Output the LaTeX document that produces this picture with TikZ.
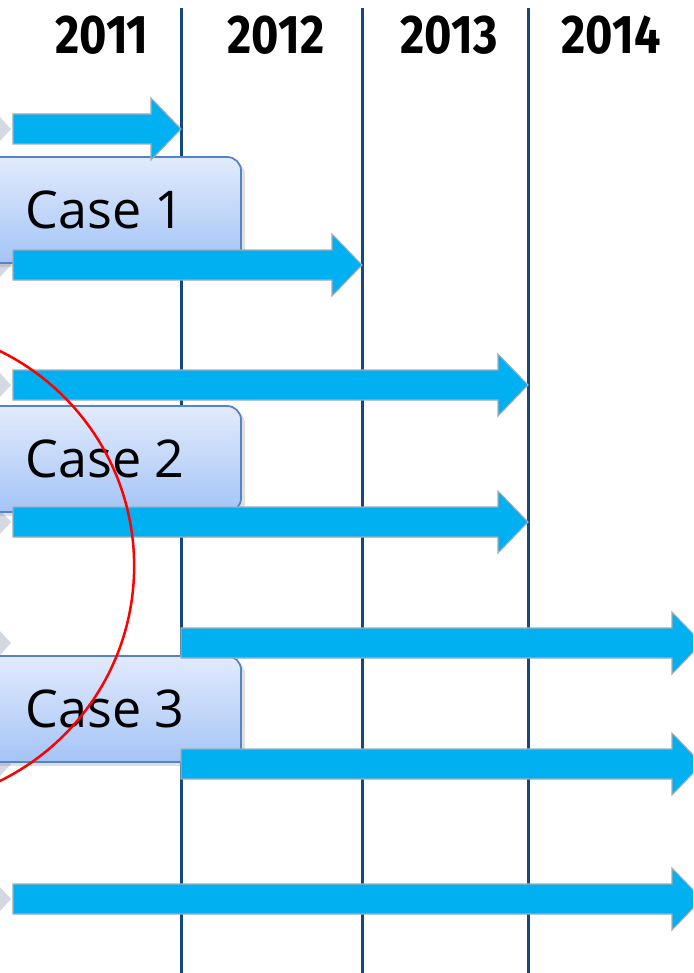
\documentclass[tikz,border=0pt]{standalone}
\usepackage{fontspec}
\setmainfont{Open Sans}
\newfontfamily\yearfont{Fira Sans}[FakeStretch=0.86]
\usetikzlibrary{shadows}
\definecolor{yearline}{RGB}{20,72,128}
\definecolor{barfill}{RGB}{0,176,240}
\definecolor{barline}{RGB}{160,172,184}
\definecolor{boxtop}{RGB}{226,235,252}
\definecolor{boxbottom}{RGB}{164,196,246}
\definecolor{boxline}{RGB}{84,132,196}
\definecolor{chevron}{RGB}{212,216,226}
\begin{document}
\begin{tikzpicture}[x=0.01cm,y=-0.01cm,
  year/.style={font=\yearfont\bfseries\fontsize{15.5pt}{16pt}\selectfont},
  casebox/.style={draw=boxline,line width=0.5pt,rounded corners=0.14cm,
    top color=boxtop,bottom color=boxbottom,inner sep=0pt,
    minimum width=2.72cm,minimum height=1.06cm,
    drop shadow={opacity=0.25,shadow xshift=0.04cm,shadow yshift=-0.04cm},
    font=\fontsize{14.8pt}{15pt}\selectfont},
  bar/.style={fill=barfill,draw=barline,line width=0.3pt}]
\useasboundingbox(0,0)rectangle(693,973);
\clip(0,0)rectangle(693,973);
%
\foreach \t/\x in {2011/102,2012/276,2013/449,2014/611}
  \node[year](y\t)at(\x,35){\t};
\foreach \x in {181,362,528}
  \draw[yearline,line width=0.03cm](\x,8)--(\x,985);
%
\foreach \y in {129,265,385,522,643,764,899}
  \fill[chevron](-10,\y-12)--(0,\y-12)--(11,\y)--(0,\y+12)--(-10,\y+12)--cycle;
%
\node[casebox](case1)at(105,210){Case 1};
\node[casebox](case2)at(105,459){Case 2};
\node[casebox](case3)at(105,709){Case 3};
%
\foreach \xa/\xb/\y in {13/181/129,13/362/265,13/528/385,13/528/522,181/702/643,181/702/764,13/702/899}
  \draw[bar](\xa,\y-15)--(\xb-30,\y-15)--(\xb-30,\y-31)--(\xb,\y)
    --(\xb-30,\y+31)--(\xb-30,\y+15)--(\xa,\y+15)--cycle;
%
\draw[red,line width=0.025cm](-105,566)circle[radius=2.39cm];
\end{tikzpicture}
\end{document}
